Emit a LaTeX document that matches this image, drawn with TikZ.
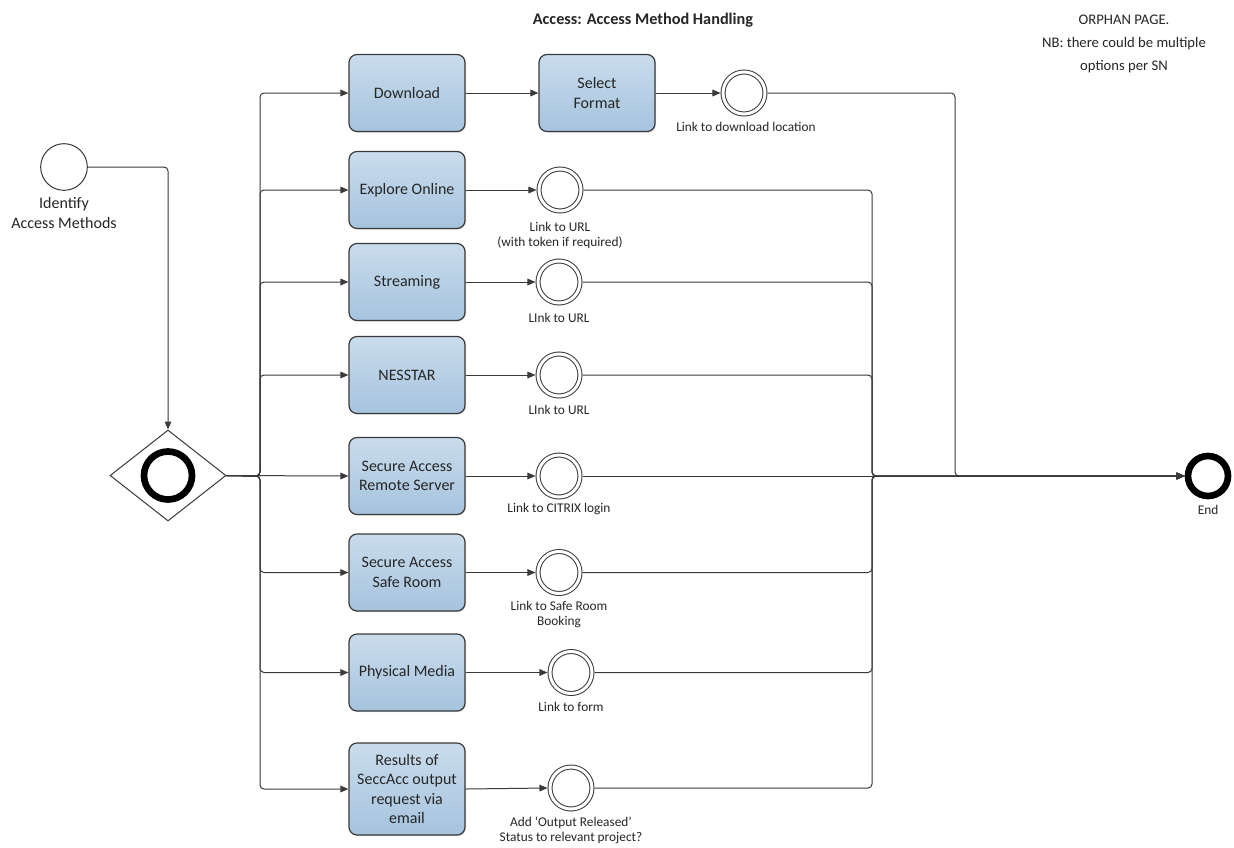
\documentclass[tikz,border=0pt]{standalone}
\usepackage{fontspec}
\setmainfont{Carlito}
\usetikzlibrary{arrows.meta,shapes.geometric,shadows}
\definecolor{taskTop}{HTML}{C9DCEC}
\definecolor{taskBot}{HTML}{A6C3DE}
\definecolor{edge}{HTML}{3A3A3A}
\definecolor{ink}{HTML}{262626}
\begin{document}
\begin{tikzpicture}[x=0.75pt,y=-0.75pt,
  task/.style={draw=edge, line width=0.9pt, rounded corners=6pt,
    top color=taskTop, bottom color=taskBot,
    drop shadow={shadow xshift=0.8pt, shadow yshift=-0.8pt, opacity=0.25},
    minimum width=87pt, minimum height=57.75pt, inner sep=2pt,
    align=center, text=ink, font=\fontsize{12}{14.5}\selectfont},
  startev/.style={circle, draw=edge, line width=0.75pt, minimum size=35pt, inner sep=0pt},
  linkev/.style={circle, draw=edge, line width=0.75pt, double, double distance=2.25pt,
    minimum size=31.5pt, inner sep=0pt, outer sep=1.9pt},
  endev/.style={circle, draw=black, line width=5pt, minimum size=30pt, inner sep=0pt},
  lbl/.style={align=center, text=ink, inner sep=0pt, font=\fontsize{10}{11.25}\selectfont},
  flow/.style={draw=edge, line width=0.75pt, rounded corners=3pt,
    -{Triangle[length=6pt,width=5pt]}}
]
\useasboundingbox (0,0) rectangle (1234,847);
\fill[white] (0,0) rectangle (1234,847);

% headings
\node[text=ink, font=\bfseries\fontsize{12.2}{14}\selectfont] (title) at (643,20) {Access: Access Method Handling};
\node[align=center, text=ink, font=\fontsize{11}{17.25}\selectfont] (note) at (1124,43.5)
  {ORPHAN PAGE.\\NB: there could be multiple\\options per SN};

% start event and gateway
\node[startev] (start) at (64,167) {};
\node[lbl, font=\fontsize{12}{15}\selectfont] (startlbl) at (64,213) {Identify\\Access Methods};
\node[diamond, draw=edge, line width=0.75pt, minimum width=87pt, minimum height=68.25pt,
  inner sep=0pt] (gw) at (168,475.5) {};
\node[circle, draw=black, line width=5pt, minimum size=36pt, inner sep=0pt] (gwmark) at (gw.center) {};

% tasks
\node[task] (t1) at (407,93) {Download};
\node[task] (fmt) at (597,93) {Select\\Format};
\node[task] (t2) at (407,190) {Explore Online};
\node[task] (t3) at (407,282) {Streaming};
\node[task] (t4) at (407,375) {NESSTAR};
\node[task] (t5) at (407,476) {Secure Access\\Remote Server};
\node[task] (t6) at (407,572.5) {Secure Access\\Safe Room};
\node[task] (t7) at (407,672.5) {Physical Media};
\node[task, minimum height=69pt, font=\fontsize{12}{14.6}\selectfont] (t8) at (407,789)
  {Results of\\SeccAcc output\\request via\\email};

% link events
\node[linkev] (e1) at (744,93) {};
\node[linkev] (e2) at (560,190) {};
\node[linkev] (e3) at (559,282) {};
\node[linkev] (e4) at (559,375) {};
\node[linkev] (e5) at (559,476) {};
\node[linkev] (e6) at (559,572.5) {};
\node[linkev] (e7) at (571,672.5) {};
\node[linkev] (e8) at (571,788) {};

\node[lbl] (l1) at (746,127) {Link to download location};
\node[lbl] (l2) at (560,235.5) {Link to URL\\(with token if required)};
\node[lbl] (l3) at (559,318) {LInk to URL};
\node[lbl] (l4) at (559,410) {LInk to URL};
\node[lbl] (l5) at (559,509) {Link to CITRIX login};
\node[lbl] (l6) at (559,614.5) {Link to Safe Room\\Booking};
\node[lbl] (l7) at (571,707) {Link to form};
\node[lbl] (l8) at (571,830.5) {Add ‘Output Released’\\Status to relevant project?};

% end event
\node[endev] (end) at (1208,476) {};
\node[lbl] (endlbl) at (1208,510) {End};

% routing points
\coordinate (fork) at (260,476);
\coordinate (merge) at (872,476);
\coordinate (mergeA) at (955,476);

% flows
\draw[flow] (start.east) -| (gw.north);
\foreach \t in {t1,t2,t3,t4,t6,t7,t8}
  \draw[flow] (gw.east) -- (fork) |- (\t.west);
\draw[flow] (gw.east) -- (t5.west);

\draw[flow] (t1.east) -- (fmt.west);
\draw[flow] (fmt.east) -- (e1.west);
\foreach \i in {2,...,8}
  \draw[flow] (t\i.east) -- (e\i.west);

\draw[flow] (e1.east) -| (mergeA) -- (end.west);
\foreach \i in {2,3,4,6,7,8}
  \draw[flow] (e\i.east) -| (merge) -- (end.west);
\draw[flow] (e5.east) -- (end.west);
\end{tikzpicture}
\end{document}
